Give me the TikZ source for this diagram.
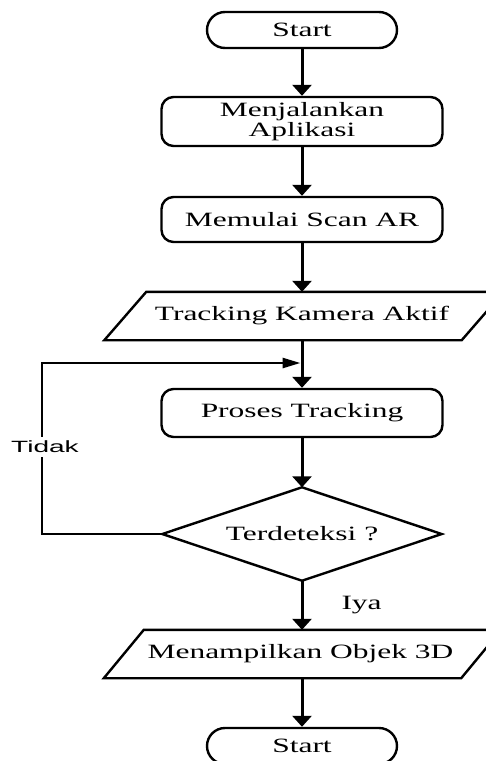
\documentclass[tikz,border=0pt]{standalone}
\usepackage{fontspec}
\setmainfont{Liberation Serif}[FakeStretch=1.55]
\newfontfamily\lblsans{Liberation Sans}[FakeStretch=1.72]
\usetikzlibrary{arrows.meta}
\begin{document}
\begin{tikzpicture}[x=1pt,y=-1pt,
  txt/.style={align=center, inner sep=0pt, font=\fontsize{20.3}{18}\selectfont},
  term/.style={txt, draw=black, line width=2.4pt, rounded corners=18pt,
    minimum width=190pt, minimum height=36pt},
  procbox/.style={txt, draw=black, line width=2.4pt, rounded corners=12pt,
    minimum width=281pt},
  iobox/.style={txt, minimum width=357pt, minimum height=48pt},
  decbox/.style={txt, minimum width=279pt, minimum height=93pt},
  outline/.style={draw=black, line width=2.4pt, line join=miter},
  flow/.style={draw=black, line width=3pt, -{Triangle[width=19pt,length=11pt]}},
  back/.style={draw=black, line width=2.6pt, -{Triangle[width=10pt,length=18pt]}},
  lbl/.style={fill=white, inner xsep=1pt, inner ysep=4pt,
    font=\lblsans\fontsize{16.3}{16}\selectfont},
]
\useasboundingbox (0,0) rectangle (486,761);

% nodes of the flow
\node[term] (start) at (302,30) {Start};
\node[procbox, minimum height=49pt] (run) at (302,121.5) {Menjalankan\\Aplikasi};
\node[procbox, minimum height=45pt] (scan) at (302,219.5) {Memulai Scan AR};
\node[iobox] (cam) at (304,316) {};
\node[txt] at (302,316) {Tracking Kamera Aktif};
\node[procbox, minimum height=48pt] (track) at (302,413) {Proses Tracking};
\node[decbox] (dec) at (302,534) {Terdeteksi ?};
\node[iobox] (show) at (302.5,654) {};
\node[txt] at (300.5,654) {Menampilkan Objek 3D};
\node[term] (stop) at (302,746) {Start};

% parallelogram and diamond outlines
\path[outline] ([xshift=-21pt]cam.south west) -- ([xshift=21pt]cam.north west)
  -- ([xshift=21pt]cam.north east) -- ([xshift=-21pt]cam.south east) -- cycle;
\path[outline] ([xshift=-20pt]show.south west) -- ([xshift=20pt]show.north west)
  -- ([xshift=20pt]show.north east) -- ([xshift=-20pt]show.south east) -- cycle;
\path[outline] (dec.north) -- (dec.east) -- (dec.south) -- (dec.west) -- cycle;

% connectors
\draw[flow] (start) -- (run);
\draw[flow] (run) -- (scan);
\draw[flow] (scan) -- (scan.south |- cam.north);
\draw[flow] (scan.south |- cam.south) -- (track);
\draw[flow] (track) -- (dec.north);
\draw[flow] (dec.south) -- node[anchor=west, inner sep=0pt, xshift=38pt,
  font=\fontsize{20.3}{18}\selectfont] {Iya} (dec.south |- show.north);
\draw[flow] (dec.south |- show.south) -- (stop);

% loop back when nothing is detected
\coordinate (loopcorner) at (42,363);
\coordinate (loopin) at (300.5,363);
\draw[back] (dec.west) -| node[lbl, pos=0.755, xshift=3pt] {Tidak} (loopcorner) -- (loopin);
\end{tikzpicture}
\end{document}
